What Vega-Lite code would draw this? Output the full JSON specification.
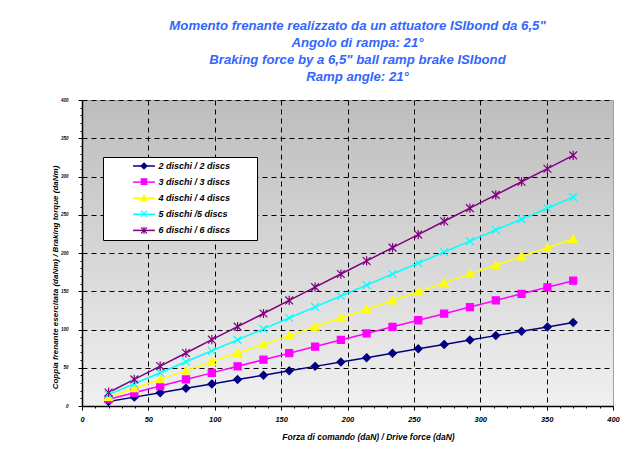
{
  "$schema": "https://vega.github.io/schema/vega-lite/v6.json",
  "width": 531,
  "height": 306,
  "autosize": {"type": "none"},
  "padding": {"left": 82, "top": 100, "right": 18, "bottom": 50},
  "background": "white",
  "title": {
    "text": ["Momento frenante realizzato da un attuatore ISIbond da 6,5\"", "Angolo di rampa: 21°", "Braking force by a 6,5\" ball ramp brake ISIbond", "Ramp angle: 21°"],
    "font": "Liberation Sans",
    "fontSize": 13.2,
    "fontWeight": "bold",
    "fontStyle": "italic",
    "color": "#3366ff",
    "lineHeight": 17,
    "anchor": "middle",
    "frame": "group",
    "dx": 10,
    "offset": 13
  },
  "config": {
    "view": {
      "stroke": "#a0a0a0",
      "fill": {"gradient": "linear", "x1": 0, "y1": 0, "x2": 0, "y2": 1, "stops": [{"offset": 0, "color": "#bdbdbd"}, {"offset": 1, "color": "#f0f0f0"}]}
    },
    "axis": {
      "domainColor": "black",
      "domainWidth": 1.5,
      "tickColor": "black",
      "gridColor": "black",
      "gridDash": [5, 4],
      "gridWidth": 1,
      "labelFont": "Liberation Sans",
      "labelFontWeight": "bold",
      "labelFontStyle": "italic",
      "labelColor": "black",
      "labelOverlap": false,
      "labelFlush": false,
      "titleFont": "Liberation Sans",
      "titleFontWeight": "bold",
      "titleFontStyle": "italic",
      "titleColor": "black",
      "titleFontSize": 8.5,
      "titleLimit": 1000
    },
    "legend": {
      "orient": "none",
      "legendX": 21,
      "legendY": 57,
      "padding": 4.5,
      "symbolOffset": 32,
      "symbolSize": 30,
      "labelOffset": 10,
      "labelFont": "Liberation Sans",
      "labelFontSize": 9,
      "labelFontWeight": "bold",
      "labelFontStyle": "italic",
      "labelColor": "black"
    }
  },
  "data": {
    "values": [
      {"f": 20, "t": 5.9, "s": "2 dischi / 2 discs"},
      {"f": 39.4, "t": 11.6, "s": "2 dischi / 2 discs"},
      {"f": 58.9, "t": 17.4, "s": "2 dischi / 2 discs"},
      {"f": 78.3, "t": 23.1, "s": "2 dischi / 2 discs"},
      {"f": 97.8, "t": 28.9, "s": "2 dischi / 2 discs"},
      {"f": 117.2, "t": 34.6, "s": "2 dischi / 2 discs"},
      {"f": 136.7, "t": 40.3, "s": "2 dischi / 2 discs"},
      {"f": 156.1, "t": 46.0, "s": "2 dischi / 2 discs"},
      {"f": 175.6, "t": 51.8, "s": "2 dischi / 2 discs"},
      {"f": 195, "t": 57.5, "s": "2 dischi / 2 discs"},
      {"f": 214.4, "t": 63.2, "s": "2 dischi / 2 discs"},
      {"f": 233.9, "t": 69.0, "s": "2 dischi / 2 discs"},
      {"f": 253.3, "t": 74.7, "s": "2 dischi / 2 discs"},
      {"f": 272.8, "t": 80.5, "s": "2 dischi / 2 discs"},
      {"f": 292.2, "t": 86.2, "s": "2 dischi / 2 discs"},
      {"f": 311.7, "t": 92.0, "s": "2 dischi / 2 discs"},
      {"f": 331.1, "t": 97.7, "s": "2 dischi / 2 discs"},
      {"f": 350.6, "t": 103.4, "s": "2 dischi / 2 discs"},
      {"f": 370, "t": 109.2, "s": "2 dischi / 2 discs"},
      {"f": 20, "t": 8.9, "s": "3 dischi / 3 discs"},
      {"f": 39.4, "t": 17.4, "s": "3 dischi / 3 discs"},
      {"f": 58.9, "t": 26.1, "s": "3 dischi / 3 discs"},
      {"f": 78.3, "t": 34.7, "s": "3 dischi / 3 discs"},
      {"f": 97.8, "t": 43.3, "s": "3 dischi / 3 discs"},
      {"f": 117.2, "t": 51.9, "s": "3 dischi / 3 discs"},
      {"f": 136.7, "t": 60.5, "s": "3 dischi / 3 discs"},
      {"f": 156.1, "t": 69.0, "s": "3 dischi / 3 discs"},
      {"f": 175.6, "t": 77.7, "s": "3 dischi / 3 discs"},
      {"f": 195, "t": 86.3, "s": "3 dischi / 3 discs"},
      {"f": 214.4, "t": 94.8, "s": "3 dischi / 3 discs"},
      {"f": 233.9, "t": 103.5, "s": "3 dischi / 3 discs"},
      {"f": 253.3, "t": 112.1, "s": "3 dischi / 3 discs"},
      {"f": 272.8, "t": 120.7, "s": "3 dischi / 3 discs"},
      {"f": 292.2, "t": 129.3, "s": "3 dischi / 3 discs"},
      {"f": 311.7, "t": 138.0, "s": "3 dischi / 3 discs"},
      {"f": 331.1, "t": 146.6, "s": "3 dischi / 3 discs"},
      {"f": 350.6, "t": 155.1, "s": "3 dischi / 3 discs"},
      {"f": 370, "t": 163.8, "s": "3 dischi / 3 discs"},
      {"f": 20, "t": 11.8, "s": "4 dischi / 4 discs"},
      {"f": 39.4, "t": 23.2, "s": "4 dischi / 4 discs"},
      {"f": 58.9, "t": 34.8, "s": "4 dischi / 4 discs"},
      {"f": 78.3, "t": 46.2, "s": "4 dischi / 4 discs"},
      {"f": 97.8, "t": 57.8, "s": "4 dischi / 4 discs"},
      {"f": 117.2, "t": 69.2, "s": "4 dischi / 4 discs"},
      {"f": 136.7, "t": 80.6, "s": "4 dischi / 4 discs"},
      {"f": 156.1, "t": 92.0, "s": "4 dischi / 4 discs"},
      {"f": 175.6, "t": 103.6, "s": "4 dischi / 4 discs"},
      {"f": 195, "t": 115.0, "s": "4 dischi / 4 discs"},
      {"f": 214.4, "t": 126.4, "s": "4 dischi / 4 discs"},
      {"f": 233.9, "t": 138.0, "s": "4 dischi / 4 discs"},
      {"f": 253.3, "t": 149.4, "s": "4 dischi / 4 discs"},
      {"f": 272.8, "t": 161.0, "s": "4 dischi / 4 discs"},
      {"f": 292.2, "t": 172.4, "s": "4 dischi / 4 discs"},
      {"f": 311.7, "t": 184.0, "s": "4 dischi / 4 discs"},
      {"f": 331.1, "t": 195.4, "s": "4 dischi / 4 discs"},
      {"f": 350.6, "t": 206.8, "s": "4 dischi / 4 discs"},
      {"f": 370, "t": 218.4, "s": "4 dischi / 4 discs"},
      {"f": 20, "t": 14.8, "s": "5 dischi /5 discs"},
      {"f": 39.4, "t": 29.0, "s": "5 dischi /5 discs"},
      {"f": 58.9, "t": 43.5, "s": "5 dischi /5 discs"},
      {"f": 78.3, "t": 57.8, "s": "5 dischi /5 discs"},
      {"f": 97.8, "t": 72.3, "s": "5 dischi /5 discs"},
      {"f": 117.2, "t": 86.5, "s": "5 dischi /5 discs"},
      {"f": 136.7, "t": 100.8, "s": "5 dischi /5 discs"},
      {"f": 156.1, "t": 115.0, "s": "5 dischi /5 discs"},
      {"f": 175.6, "t": 129.5, "s": "5 dischi /5 discs"},
      {"f": 195, "t": 143.8, "s": "5 dischi /5 discs"},
      {"f": 214.4, "t": 158.0, "s": "5 dischi /5 discs"},
      {"f": 233.9, "t": 172.5, "s": "5 dischi /5 discs"},
      {"f": 253.3, "t": 186.8, "s": "5 dischi /5 discs"},
      {"f": 272.8, "t": 201.3, "s": "5 dischi /5 discs"},
      {"f": 292.2, "t": 215.5, "s": "5 dischi /5 discs"},
      {"f": 311.7, "t": 230.0, "s": "5 dischi /5 discs"},
      {"f": 331.1, "t": 244.3, "s": "5 dischi /5 discs"},
      {"f": 350.6, "t": 258.5, "s": "5 dischi /5 discs"},
      {"f": 370, "t": 273.0, "s": "5 dischi /5 discs"},
      {"f": 20, "t": 17.7, "s": "6 dischi / 6 discs"},
      {"f": 39.4, "t": 34.8, "s": "6 dischi / 6 discs"},
      {"f": 58.9, "t": 52.2, "s": "6 dischi / 6 discs"},
      {"f": 78.3, "t": 69.3, "s": "6 dischi / 6 discs"},
      {"f": 97.8, "t": 86.7, "s": "6 dischi / 6 discs"},
      {"f": 117.2, "t": 103.8, "s": "6 dischi / 6 discs"},
      {"f": 136.7, "t": 120.9, "s": "6 dischi / 6 discs"},
      {"f": 156.1, "t": 138.0, "s": "6 dischi / 6 discs"},
      {"f": 175.6, "t": 155.4, "s": "6 dischi / 6 discs"},
      {"f": 195, "t": 172.5, "s": "6 dischi / 6 discs"},
      {"f": 214.4, "t": 189.6, "s": "6 dischi / 6 discs"},
      {"f": 233.9, "t": 207.0, "s": "6 dischi / 6 discs"},
      {"f": 253.3, "t": 224.1, "s": "6 dischi / 6 discs"},
      {"f": 272.8, "t": 241.5, "s": "6 dischi / 6 discs"},
      {"f": 292.2, "t": 258.6, "s": "6 dischi / 6 discs"},
      {"f": 311.7, "t": 276.0, "s": "6 dischi / 6 discs"},
      {"f": 331.1, "t": 293.1, "s": "6 dischi / 6 discs"},
      {"f": 350.6, "t": 310.2, "s": "6 dischi / 6 discs"},
      {"f": 370, "t": 327.6, "s": "6 dischi / 6 discs"}
    ]
  },
  "encoding": {
    "x": {
      "field": "f",
      "type": "quantitative",
      "scale": {"domain": [0, 400], "nice": false, "zero": false},
      "axis": {
        "title": "Forza di comando (daN) / Drive force (daN)",
        "values": [0, 10, 20, 30, 40, 50, 60, 70, 80, 90, 100, 110, 120, 130, 140, 150, 160, 170, 180, 190, 200, 210, 220, 230, 240, 250, 260, 270, 280, 290, 300, 310, 320, 330, 340, 350, 360, 370, 380, 390, 400],
        "labelExpr": "datum.value % 50 === 0 ? datum.label : ''",
        "labelFontSize": 7.5,
        "labelPadding": 5,
        "tickSize": {"condition": {"test": "datum.value % 50 === 0", "value": 4}, "value": 2},
        "gridOpacity": {"condition": {"test": "datum.value % 50 === 0 && datum.value > 0 && datum.value < 400", "value": 1}, "value": 0},
        "titlePadding": 10,
        "titleX": 286
      }
    },
    "y": {
      "field": "t",
      "type": "quantitative",
      "scale": {"domain": [0, 400], "nice": false, "zero": false},
      "axis": {
        "title": "Coppia frenante esercitata (daNm) / Braking torque (daNm)",
        "values": [0, 10, 20, 30, 40, 50, 60, 70, 80, 90, 100, 110, 120, 130, 140, 150, 160, 170, 180, 190, 200, 210, 220, 230, 240, 250, 260, 270, 280, 290, 300, 310, 320, 330, 340, 350, 360, 370, 380, 390, 400],
        "labelExpr": "datum.value % 50 === 0 ? datum.label : ''",
        "labelFontSize": 4.5,
        "labelPadding": 10,
        "tickSize": {"condition": {"test": "datum.value % 50 === 0", "value": 4}, "value": 2},
        "gridOpacity": {"condition": {"test": "datum.value % 50 === 0 && datum.value > 0", "value": 1}, "value": 0},
        "titleFontSize": 8,
        "titleAngle": 270,
        "titleAlign": "center",
        "titleBaseline": "middle",
        "titleX": -27,
        "titleY": 177
      }
    }
  },
  "layer": [
    {
      "mark": {"type": "line", "strokeWidth": 1.5},
      "encoding": {
        "color": {
          "field": "s",
          "type": "nominal",
          "scale": {"domain": ["2 dischi / 2 discs", "3 dischi / 3 discs", "4 dischi / 4 discs", "5 dischi /5 discs", "6 dischi / 6 discs"], "range": ["#000080", "#ff00ff", "#ffff00", "#00ffff", "#800080"]},
          "legend": {
            "title": "MM",
            "titleOrient": "right",
            "titleOpacity": 0,
            "titleFontSize": 9,
            "titlePadding": 7,
            "rowPadding": 6.1,
            "symbolType": "M-4,0L4,0",
            "symbolStrokeWidth": 1.5,
            "fillColor": "white",
            "strokeColor": "black"
          }
        }
      }
    },
    {
      "mark": {"type": "point", "filled": true, "size": 50, "strokeWidth": 1.2, "opacity": 1},
      "encoding": {
        "fill": {
          "field": "s",
          "type": "nominal",
          "scale": {"domain": ["6 dischi / 6 discs", "5 dischi /5 discs", "4 dischi / 4 discs", "3 dischi / 3 discs", "2 dischi / 2 discs"], "range": ["#800080", "#00ffff", "#ffff00", "#ff00ff", "#000080"]},
          "legend": {
            "title": null,
            "values": ["2 dischi / 2 discs", "3 dischi / 3 discs", "4 dischi / 4 discs", "5 dischi /5 discs", "6 dischi / 6 discs"],
            "labelOpacity": 0,
            "rowPadding": 4.6,
            "symbolStrokeWidth": 1.2,
            "symbolOpacity": 1
          }
        },
        "stroke": {
          "field": "s",
          "type": "nominal",
          "scale": {"domain": ["6 dischi / 6 discs", "5 dischi /5 discs", "4 dischi / 4 discs", "3 dischi / 3 discs", "2 dischi / 2 discs"], "range": ["#800080", "#00ffff", "#ffff00", "#ff00ff", "#000080"]},
          "legend": {
            "title": null,
            "values": ["2 dischi / 2 discs", "3 dischi / 3 discs", "4 dischi / 4 discs", "5 dischi /5 discs", "6 dischi / 6 discs"],
            "labelOpacity": 0,
            "rowPadding": 4.6
          }
        },
        "shape": {
          "field": "s",
          "type": "nominal",
          "scale": {"domain": ["6 dischi / 6 discs", "5 dischi /5 discs", "4 dischi / 4 discs", "3 dischi / 3 discs", "2 dischi / 2 discs"], "range": ["M-1.1,-1.1L1.1,1.1M-1.1,1.1L1.1,-1.1M0,-1.3L0,1.3", "M-1.1,-1.1L1.1,1.1M-1.1,1.1L1.1,-1.1", "M0,-1.15L1.15,0.95L-1.15,0.95Z", "M-1,-1L1,-1L1,1L-1,1Z", "M0,-1.1L1.1,0L0,1.1L-1.1,0Z"]},
          "legend": {
            "title": null,
            "values": ["2 dischi / 2 discs", "3 dischi / 3 discs", "4 dischi / 4 discs", "5 dischi /5 discs", "6 dischi / 6 discs"],
            "labelOpacity": 0,
            "rowPadding": 4.6
          }
        }
      }
    }
  ]
}
